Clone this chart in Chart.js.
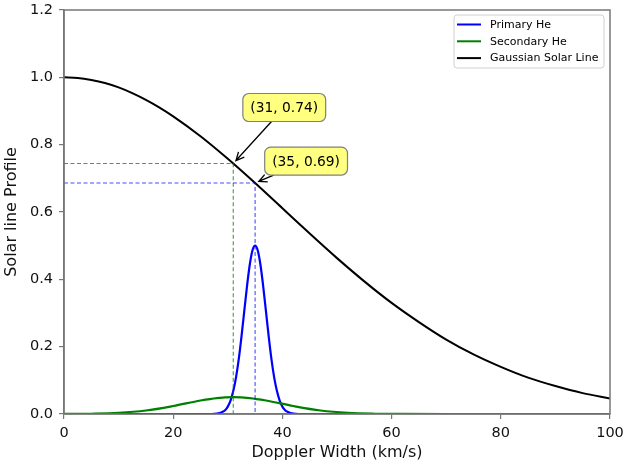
<!DOCTYPE html>
<html>
<head>
<meta charset="utf-8">
<script src="https://cdn.jsdelivr.net/npm/chart.js@4/dist/chart.umd.min.js"></script>
<style>
  html, body { margin: 0; padding: 0; background: #fff; }
  canvas { display: block; }
</style>
</head>
<body>
<canvas id="chart" width="626" height="464"></canvas>
<script>
//--- Data.
const solarX = [0, 2.5, 5, 7.5, 10, 12.5, 15, 17.5, 20, 25, 30, 35, 40, 45, 50, 55, 60, 65, 70, 75, 80, 85, 90, 95, 100];
const solarY = [1.000, 0.998, 0.992, 0.983, 0.970, 0.953, 0.933, 0.910, 0.884, 0.825, 0.758, 0.686, 0.611, 0.536, 0.463, 0.394, 0.330, 0.273, 0.221, 0.177, 0.140, 0.108, 0.083, 0.062, 0.046];

const primaryX = [0, 27, 28, 29, 29.5, 30, 30.5, 31, 31.5, 32, 32.5, 33, 33.5, 34, 34.5, 35, 35.5, 36, 36.5, 37, 37.5, 38, 38.5, 39, 39.5, 40, 40.5, 41, 42, 43, 100];
const primaryY = [0, 0, 0.001, 0.006, 0.011, 0.022, 0.040, 0.068, 0.108, 0.162, 0.229, 0.303, 0.377, 0.441, 0.485, 0.500, 0.485, 0.441, 0.377, 0.303, 0.229, 0.162, 0.108, 0.068, 0.040, 0.022, 0.011, 0.006, 0.001, 0, 0];

const secondaryX = [0, 5, 10, 15, 20, 25, 28, 31, 34, 37, 42, 47, 52, 57, 62, 70, 100];
const secondaryY = [0.0001, 0.0008, 0.0033, 0.0103, 0.0237, 0.0400, 0.0473, 0.0500, 0.0473, 0.0400, 0.0237, 0.0103, 0.0033, 0.0008, 0.0001, 0, 0];

const seriesNames = ['Primary He', 'Secondary He', 'Gaussian Solar Line'];
const seriesColors = ['#0000ff', '#008000', '#000000'];

// annotated points on the solar line
const annX = [31, 35];
const annY = [0.744, 0.686];
const annColors = ['rgba(0, 128, 0, 0.75)', 'rgba(0, 0, 255, 0.7)'];

const xTicks = [0, 20, 40, 60, 80, 100];
const yTicks = [0, 0.2, 0.4, 0.6, 0.8, 1.0, 1.2];

const toPoints = (xs, ys) => xs.map((x, i) => ({ x, y: ys[i] }));

//--- Legend, annotation boxes and top/right spines.
const dopplerDecor = {
  id: 'dopplerDecor',
  afterDatasetsDraw(chart, args, opts) {
    const { ctx, chartArea, scales } = chart;
    ctx.save();

    // top and right spines
    ctx.strokeStyle = '#777';
    ctx.lineWidth = 1.5;
    ctx.strokeRect(chartArea.left, chartArea.top, chartArea.right - chartArea.left, chartArea.bottom - chartArea.top);

    // annotation boxes with arrows
    ctx.font = '13.8px "DejaVu Sans"';
    ctx.textAlign = 'center';
    ctx.textBaseline = 'middle';
    annX.forEach((ax, i) => {
      const px = scales.x.getPixelForValue(ax);
      const py = scales.y.getPixelForValue(annY[i]);
      const cx = px + opts.offsets[i][0];
      const cy = py + opts.offsets[i][1];
      const label = '(' + ax + ', ' + annY[i].toFixed(2) + ')';
      const w = ctx.measureText(label).width + 15;
      const h = 28;

      // arrow from box edge to the point
      const dx = px - cx;
      const dy = py - cy;
      const t = Math.min(Math.abs((w / 2) / dx), Math.abs((h / 2) / dy));
      const sx = cx + dx * t;
      const sy = cy + dy * t;
      const len = Math.hypot(dx, dy);
      const ex = px - dx / len * 4;
      const ey = py - dy / len * 4;
      const ang = Math.atan2(ey - sy, ex - sx);
      ctx.strokeStyle = '#000';
      ctx.lineWidth = 1.3;
      ctx.beginPath();
      ctx.moveTo(sx, sy);
      ctx.lineTo(ex, ey);
      ctx.moveTo(ex - 9 * Math.cos(ang - 0.45), ey - 9 * Math.sin(ang - 0.45));
      ctx.lineTo(ex, ey);
      ctx.lineTo(ex - 9 * Math.cos(ang + 0.45), ey - 9 * Math.sin(ang + 0.45));
      ctx.stroke();

      ctx.beginPath();
      ctx.roundRect(cx - w / 2, cy - h / 2, w, h, 6);
      ctx.fillStyle = '#ffff80';
      ctx.fill();
      ctx.strokeStyle = '#808080';
      ctx.lineWidth = 1.2;
      ctx.stroke();
      ctx.fillStyle = '#000';
      ctx.fillText(label, cx, cy + 1);
    });

    // legend
    const lx = chartArea.right - 156;
    const ly = chartArea.top + 5;
    ctx.beginPath();
    ctx.roundRect(lx, ly, 150, 53, 3);
    ctx.fillStyle = 'rgba(255,255,255,0.85)';
    ctx.fill();
    ctx.strokeStyle = '#d0d0d0';
    ctx.lineWidth = 1;
    ctx.stroke();
    ctx.font = '11px "DejaVu Sans"';
    ctx.textAlign = 'left';
    seriesNames.forEach((name, i) => {
      const y = ly + 9.5 + i * 16.8;
      ctx.strokeStyle = seriesColors[i];
      ctx.lineWidth = 2;
      ctx.beginPath();
      ctx.moveTo(lx + 3, y);
      ctx.lineTo(lx + 27, y);
      ctx.stroke();
      ctx.fillStyle = '#000';
      ctx.fillText(name, lx + 36, y + 0.5);
    });

    ctx.restore();
  }
};

const tickFont = { family: 'DejaVu Sans', size: 14.5 };
const titleFont = { family: 'DejaVu Sans', size: 16 };

new Chart(document.getElementById('chart'), {
  type: 'line',
  data: {
    datasets: [
      {
        data: toPoints(primaryX, primaryY),
        borderColor: seriesColors[0],
        borderWidth: 2.2,
        order: 5
      },
      {
        data: toPoints(secondaryX, secondaryY),
        borderColor: seriesColors[1],
        borderWidth: 2.2,
        order: 4
      },
      {
        data: toPoints(solarX, solarY),
        borderColor: seriesColors[2],
        borderWidth: 2,
        order: 3
      },
      {
        data: [{ x: 0, y: annY[0] }, { x: annX[0], y: annY[0] }, { x: annX[0], y: 0 }],
        borderColor: annColors[0],
        borderWidth: 1.1,
        borderDash: [4, 2.5],
        cubicInterpolationMode: 'default',
        tension: 0,
        order: 2
      },
      {
        data: [{ x: 0, y: annY[1] }, { x: annX[1], y: annY[1] }, { x: annX[1], y: 0 }],
        borderColor: annColors[1],
        borderWidth: 1.1,
        borderDash: [4, 2.5],
        cubicInterpolationMode: 'default',
        tension: 0,
        order: 1
      }
    ]
  },
  options: {
    responsive: false,
    animation: false,
    devicePixelRatio: 1,
    layout: { padding: { top: 10, right: 16, left: 0, bottom: 0 } },
    elements: {
      point: { radius: 0 },
      line: { cubicInterpolationMode: 'monotone', fill: false }
    },
    plugins: {
      legend: { display: false },
      tooltip: { enabled: false },
      dopplerDecor: { offsets: [[51, -56], [51, -22]] }
    },
    scales: {
      x: {
        type: 'linear',
        min: 0,
        max: 100,
        afterBuildTicks: s => { s.ticks = xTicks.map(v => ({ value: v })); },
        afterFit: s => { s.height = 50; s.paddingLeft = 0; s.paddingRight = 0; },
        ticks: { color: '#111', font: tickFont, padding: 6, maxRotation: 0 },
        grid: { drawOnChartArea: false, drawTicks: true, tickLength: 5, color: '#777', lineWidth: 1.2 },
        border: { color: '#777', width: 1.5 },
        title: { display: true, text: 'Doppler Width (km/s)', color: '#111', font: titleFont, padding: { top: 0, bottom: 2 } }
      },
      y: {
        type: 'linear',
        min: 0,
        max: 1.2,
        afterBuildTicks: s => { s.ticks = yTicks.map(v => ({ value: v })); },
        afterFit: s => { s.width = 64; s.paddingTop = 0; s.paddingBottom = 0; },
        ticks: { color: '#111', font: tickFont, padding: 6, callback: v => v.toFixed(1) },
        grid: { drawOnChartArea: false, drawTicks: true, tickLength: 5, color: '#777', lineWidth: 1.2 },
        border: { color: '#777', width: 1.5 },
        title: { display: true, text: 'Solar line Profile', color: '#111', font: titleFont, padding: { top: 2, bottom: 2 } }
      }
    }
  },
  plugins: [dopplerDecor]
});
</script>
</body>
</html>
